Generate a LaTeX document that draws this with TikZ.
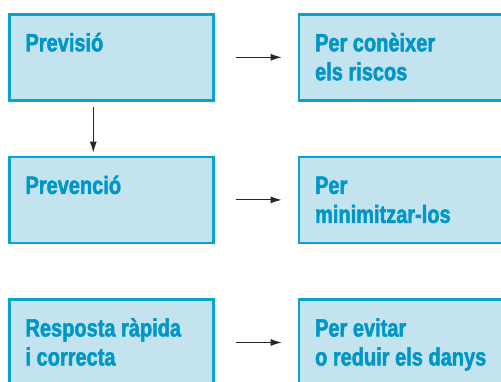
\documentclass[tikz,border=0pt]{standalone}
\usepackage{fontspec}
\newfontfamily\caixafont{Liberation Sans}[FakeStretch=0.8, BoldFeatures={FakeBold=1.8}]
\usetikzlibrary{positioning,arrows.meta}
\definecolor{fonscaixa}{HTML}{C3E3EF}
\definecolor{voracaixa}{HTML}{0AA2CE}
\definecolor{textcaixa}{HTML}{0096C8}

\begin{document}
\begin{tikzpicture}[
        x=1pt, y=-1pt,
        caixa/.style={draw=voracaixa, fill=fonscaixa, line width=2.5pt, rectangle, minimum width=204pt, minimum height=86pt, outer sep=0pt, inner sep=0pt},
        titol/.style={anchor=base west, inner sep=0pt, text=textcaixa, font=\caixafont\bfseries\fontsize{25}{29}\selectfont},
        fletxa/.style={-{Latex[length=11pt,width=7pt]}, line width=0.9pt, draw=black!85},
        node distance=56.6pt and 85.6pt,
    ]
    \path[use as bounding box, clip] (0,0) rectangle (501,381);
    \node[caixa, anchor=north west](previsio) at (9.3,14.3){};
    \node[caixa, right=of previsio](coneixer){};
    \node[caixa, below=of previsio](prevencio){};
    \node[caixa, right=of prevencio](minimitzar){};
    \node[caixa, below=of prevencio](resposta){};
    \node[caixa, right=of resposta](evitar){};
    \foreach \caixa/\etiqueta in {previsio/{Previsió}, coneixer/{Per conèixer\\els riscos},
        prevencio/{Prevenció}, minimitzar/{Per\\minimitzar-los},
        resposta/{Resposta ràpida\\i correcta}, evitar/{Per evitar\\o reduir els danys}}
        \node[titol](\caixa-text) at ([shift={(16pt,-37pt)}]\caixa.north west){\begin{tabular}[t]{@{}l@{}}\etiqueta\end{tabular}};
    \foreach \de/\a in {previsio/coneixer, prevencio/minimitzar, resposta/evitar}
        \draw[fletxa, shorten <=22.3pt, shorten >=17.3pt] (\de) -- (\a);
    \draw[fletxa, shorten <=7pt, shorten >=4.3pt] ([xshift=84pt]previsio.south west) -- ([xshift=84pt]prevencio.north west);
\end{tikzpicture}
\end{document}
